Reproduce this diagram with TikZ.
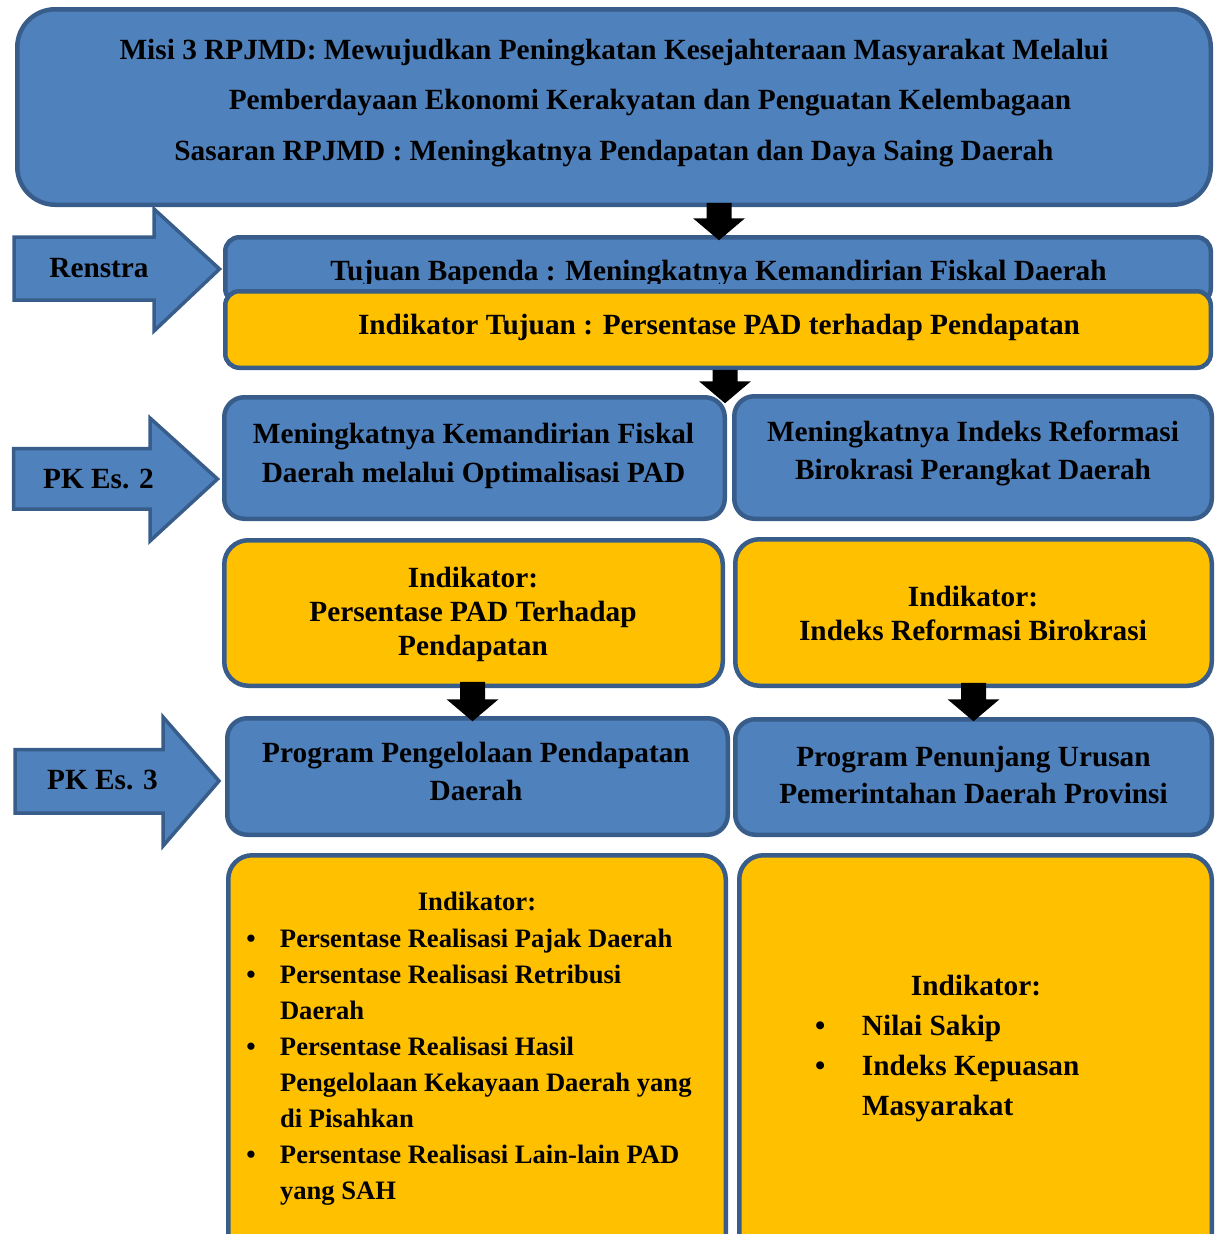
\documentclass[tikz,border=0pt]{standalone}
\usepackage{fontspec}
\setmainfont{Liberation Serif}
\usetikzlibrary{calc}
\definecolor{blu}{RGB}{79,129,189}
\definecolor{bdr}{RGB}{56,93,138}
\definecolor{yel}{RGB}{255,192,0}
\newcommand\txtlines[2]{\fontsize{29.3}{#1}\selectfont\begin{tabular}[t]{@{}c@{}}#2\end{tabular}}
\newcommand\blkarrow[2]{\fill[black] let \p1=#1, \p2=#2 in
  (\x1-12.5pt,\y1) -- (\x1+12.5pt,\y1) -- (\x1+12.5pt,\y2+22pt) -- (\x1+26pt,\y2+22pt)
  -- (\x1,\y2) -- (\x1-26pt,\y2+22pt) -- (\x1-12.5pt,\y2+22pt) -- cycle;}
\begin{document}
\begin{tikzpicture}[x=1pt,y=-1pt,
  box/.style={draw=bdr, line width=4.5pt, inner sep=0pt, outer sep=0pt, rectangle},
  bluebox/.style={box, fill=blu},
  yelbox/.style={box, fill=yel},
  txt/.style={inner sep=0pt, outer sep=0pt, font=\bfseries\fontsize{29.3}{35}\selectfont, anchor=base},
  blockarrow/.style={draw=bdr, line width=3.5pt, fill=blu, line join=miter},
]
\useasboundingbox (0,0) rectangle (1216,1234);
\clip (0,0) rectangle (1216,1234);

% top box
\node[bluebox, rounded corners=38pt, minimum width=1193.5pt, minimum height=195.5pt] (top) at (614,107) {};
\node[txt] (toptxt) at (614,59) {\txtlines{50.5pt}{Misi 3 RPJMD: Mewujudkan Peningkatan Kesejahteraan Masyarakat Melalui\\
\hspace*{72pt}Pemberdayaan Ekonomi Kerakyatan dan Penguatan Kelembagaan\\
Sasaran RPJMD : Meningkatnya Pendapatan dan Daya Saing Daerah}};

% tujuan
\node[bluebox, rounded corners=14pt, minimum width=985.5pt, minimum height=65.5pt] (tuj) at (718,270) {};
\begin{scope}
\clip (tuj.north west) rectangle ($(tuj.east)+(0,13.5)$);
\node[txt] (tujtxt) at (718.5,280) {Tujuan Bapenda : Meningkatnya Kemandirian Fiskal Daerah};
\end{scope}
\node[yelbox, rounded corners=14pt, minimum width=985.5pt, minimum height=76.5pt] (indt) at (718,329.5) {};
\node[txt] (indttxt) at (719,334) {Indikator Tujuan : Persentase PAD terhadap Pendapatan};

% block arrows
\draw[blockarrow] (14,237) -- (154,237) -- (154,209) -- (219.5,269) -- (154,331) -- (154,300) -- (14,300) -- cycle;
\node[txt] (renstra) at (99,277) {Renstra};
\draw[blockarrow] (13.5,448.5) -- (150,448.5) -- (150,418) -- (217.5,479) -- (150,541) -- (150,509) -- (13.5,509) -- cycle;
\node[txt] (pk2) at (98.5,488) {PK Es. 2};
\draw[blockarrow] (15,749.5) -- (163,749.5) -- (163,717) -- (219,781) -- (163,846) -- (163,813) -- (15,813) -- cycle;
\node[txt] (pk3) at (102.5,789) {PK Es. 3};

% row PK Es. 2
\node[bluebox, rounded corners=20pt, minimum width=500.5pt, minimum height=121.5pt] (m1) at (474.5,458) {};
\node[txt] (m1t) at (473.5,443) {\txtlines{39pt}{Meningkatnya Kemandirian Fiskal\\Daerah melalui Optimalisasi PAD}};
\node[bluebox, rounded corners=20pt, minimum width=477.5pt, minimum height=122.5pt] (m2) at (973,457.5) {};
\node[txt] (m2t) at (973,441) {\txtlines{38pt}{Meningkatnya Indeks Reformasi\\Birokrasi Perangkat Daerah}};

% indikator row
\node[yelbox, rounded corners=24pt, minimum width=498.5pt, minimum height=145.5pt] (i1) at (473.5,613) {};
\node[txt] (i1t) at (473,587) {\txtlines{34pt}{Indikator:\\Persentase PAD Terhadap\\Pendapatan}};
\node[yelbox, rounded corners=24pt, minimum width=476.5pt, minimum height=146.5pt] (i2) at (973.5,612.5) {};
\node[txt] (i2t) at (973,606) {\txtlines{34pt}{Indikator:\\Indeks Reformasi Birokrasi}};

% program row
\node[bluebox, rounded corners=20pt, minimum width=500.5pt, minimum height=116.5pt] (p1) at (477.5,776.5) {};
\node[txt] (p1t) at (476,762) {\txtlines{38pt}{Program Pengelolaan Pendapatan\\Daerah}};
\node[bluebox, rounded corners=20pt, minimum width=476.5pt, minimum height=115.5pt] (p2) at (973.5,777) {};
\node[txt] (p2t) at (973.5,766) {\txtlines{37pt}{Program Penunjang Urusan\\Pemerintahan Daerah Provinsi}};

% bottom row
\node[yelbox, rounded corners=24pt, minimum width=497.5pt, minimum height=412.5pt] (b1) at (477,1061.5) {};
\node[txt] (b1h) at (477,910) {\fontsize{26.6}{36}\selectfont Indikator:};
\node[txt, anchor=base west] (b1l) at (246.4,947) {\fontsize{26.6}{36}\selectfont
\begin{tabular}[t]{@{}p{33.6pt}@{}l@{}}
\textbullet & Persentase Realisasi Pajak Daerah\\
\textbullet & Persentase Realisasi Retribusi\\
 & Daerah\\
\textbullet & Persentase Realisasi Hasil\\
 & Pengelolaan Kekayaan Daerah yang\\
 & di Pisahkan\\
\textbullet & Persentase Realisasi Lain-lain PAD\\
 & yang SAH
\end{tabular}};
\node[yelbox, rounded corners=24pt, minimum width=472.5pt, minimum height=412.5pt] (b2) at (975.5,1061.5) {};
\node[txt] (b2h) at (976,995) {Indikator:};
\node[txt, anchor=base west] (b2l) at (815,1035) {\fontsize{29.3}{40}\selectfont
\begin{tabular}[t]{@{}p{47pt}@{}l@{}}
\textbullet & Nilai Sakip\\
\textbullet & Indeks Kepuasan\\
 & Masyarakat
\end{tabular}};

% black connector arrows
\blkarrow{($(top.south -| tuj.north)+(1,-2)$)}{($(tuj.north)+(1,3)$)}
\blkarrow{($(indt.south)+(7,2)$)}{($(indt.south |- m1.north)+(7,6)$)}
\blkarrow{($(i1.south)+(-1,-4)$)}{($(i1.south |- p1.north)+(-1,3)$)}
\blkarrow{($(i2.south)+(0,-3)$)}{($(i2.south |- p2.north)+(0,2)$)}
\end{tikzpicture}
\end{document}
